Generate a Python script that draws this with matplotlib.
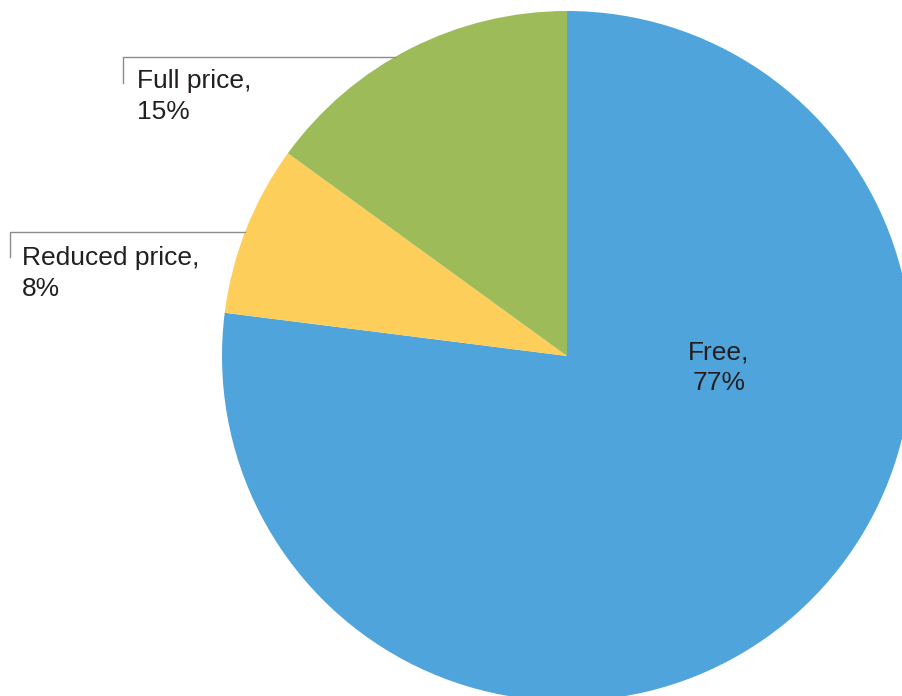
import matplotlib.pyplot as plt

labels = ["Free", "Reduced price", "Full price"]
values = [77, 8, 15]
colors = ["#4FA4DB", "#FECE5A", "#9DBB59"]

W, H = 903, 696
fig = plt.figure(figsize=(W / 100, H / 100), dpi=100)
ax = fig.add_axes([0, 0, 1, 1])

# pie in pixel coordinates (y measured from bottom)
cx, cy, r = 567, H - 356, 345
ax.pie(values, colors=colors, startangle=90, counterclock=False,
       center=(cx, cy), radius=r, frame=True,
       wedgeprops=dict(linewidth=0))
ax.set_xlim(0, W)
ax.set_ylim(0, H)
ax.set_aspect("equal")
ax.axis("off")

font = dict(family=["Liberation Sans", "DejaVu Sans"], size=19, color="#231F20",
            linespacing=1.36)

# Free label inside
ax.text(719, H - 368, f"{labels[0]},\n{values[0]}%", ha="center", va="center", **font)

# leader lines
line = dict(color="#8C8C8C", lw=1.0)
ax.plot([123, 123, 395], [H - 83, H - 57, H - 57], **line)
ax.plot([10, 10, 245], [H - 257, H - 232, H - 232], **line)

ax.text(137, H - 69, f"{labels[2]},\n{values[2]}%", ha="left", va="top", **font)
ax.text(22, H - 246, f"{labels[1]},\n{values[1]}%", ha="left", va="top", **font)

fig.savefig("out.png", dpi=100)
